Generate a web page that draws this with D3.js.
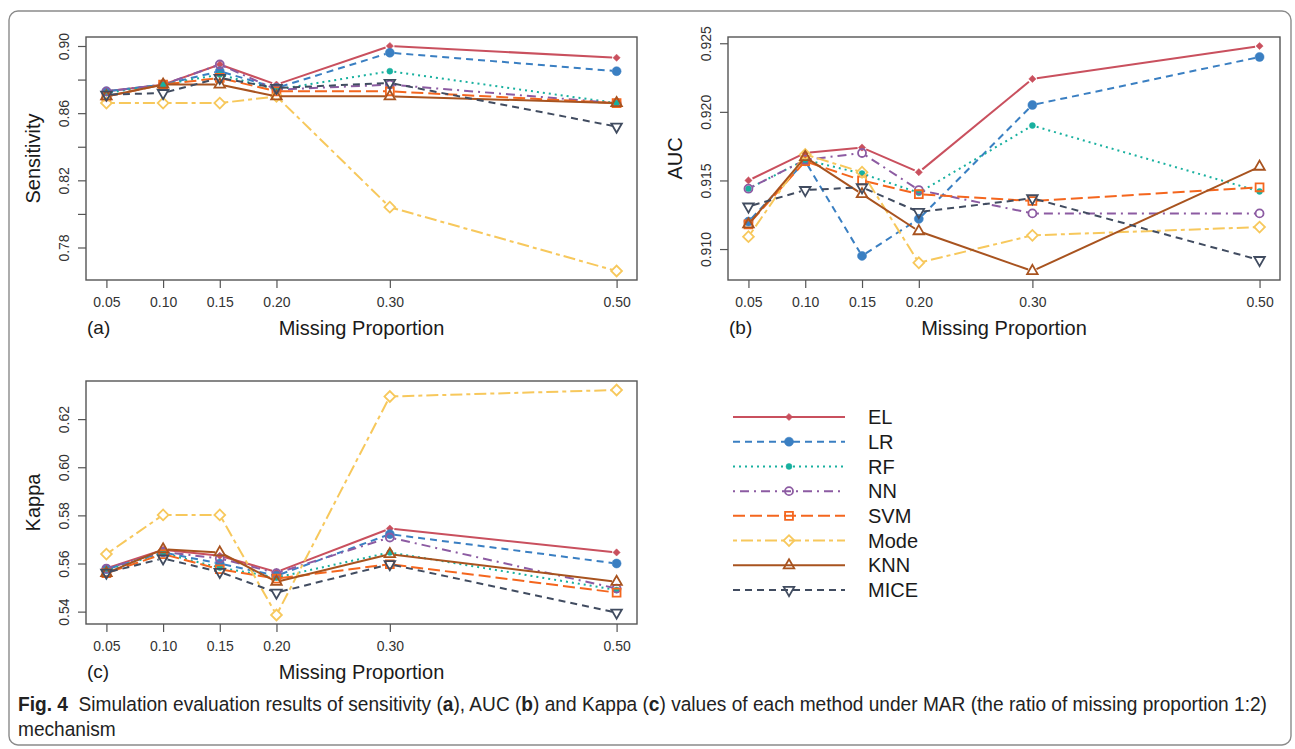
<!DOCTYPE html>
<html>
<head>
<meta charset="utf-8">
<script src="https://cdn.jsdelivr.net/npm/d3@7"></script>
<style>
  body { margin: 0; background: white; }
  svg text { font-family: "Liberation Sans", Arial, sans-serif; }
</style>
</head>
<body>
<script>
// data
const missing = [0.05, 0.10, 0.15, 0.20, 0.30, 0.50];
const missingLabels = ["0.05", "0.10", "0.15", "0.20", "0.30", "0.50"];
const methods = ["EL", "LR", "RF", "NN", "SVM", "Mode", "KNN", "MICE"];
const colors = ["#C9505E", "#3A7FC2", "#18B09F", "#8C5BA2", "#F4661E", "#F7C85C", "#A8531F", "#414C60"];
const dashes = [null, "7,5", "2,4", "2,5,9,5", "12,5", "4,4,12,4", null, "7,5"];
const shapes = ["diamondS", "circleL", "circleS", "circleO", "square", "diamondO", "triUp", "triDown"];

// rows follow methods order
const sensitivity = [
  [0.873, 0.877, 0.889, 0.877, 0.900, 0.893],
  [0.873, 0.877, 0.885, 0.875, 0.896, 0.885],
  [0.872, 0.877, 0.883, 0.874, 0.885, 0.866],
  [0.873, 0.877, 0.889, 0.874, 0.877, 0.866],
  [0.870, 0.877, 0.881, 0.873, 0.873, 0.866],
  [0.866, 0.866, 0.866, 0.870, 0.804, 0.766],
  [0.870, 0.877, 0.877, 0.870, 0.870, 0.866],
  [0.871, 0.872, 0.881, 0.875, 0.878, 0.852]
];
const auc = [
  [0.9150, 0.9170, 0.9174, 0.9156, 0.9224, 0.9248],
  [0.9120, 0.9164, 0.9095, 0.9122, 0.9205, 0.9240],
  [0.9144, 0.9165, 0.9155, 0.9141, 0.9190, 0.9142],
  [0.9144, 0.9165, 0.9170, 0.9143, 0.9126, 0.9126],
  [0.9118, 0.9164, 0.9150, 0.9140, 0.9135, 0.9145],
  [0.9109, 0.9169, 0.9156, 0.9090, 0.9110, 0.9116],
  [0.9118, 0.9167, 0.9140, 0.9113, 0.9084, 0.9160],
  [0.9131, 0.9143, 0.9145, 0.9127, 0.9137, 0.9092]
];
const kappa = [
  [0.5580, 0.5657, 0.5632, 0.5565, 0.5745, 0.5646],
  [0.5576, 0.5646, 0.5600, 0.5549, 0.5722, 0.5600],
  [0.5573, 0.5643, 0.5583, 0.5542, 0.5646, 0.5490],
  [0.5579, 0.5648, 0.5621, 0.5560, 0.5708, 0.5496],
  [0.5560, 0.5639, 0.5576, 0.5537, 0.5597, 0.5479],
  [0.5639, 0.5802, 0.5802, 0.5386, 0.6294, 0.6321],
  [0.5560, 0.5659, 0.5646, 0.5524, 0.5639, 0.5524],
  [0.5562, 0.5621, 0.5565, 0.5479, 0.5597, 0.5396]
];
const sensTicks = [0.78, 0.80, 0.82, 0.84, 0.86, 0.88, 0.90];
const sensLabeled = [0.78, 0.82, 0.86, 0.90];
const aucTicks = [0.910, 0.915, 0.920, 0.925];
const kappaTicks = [0.54, 0.56, 0.58, 0.60, 0.62];

const W = 1295, H = 749;
const svg = d3.select("body").append("svg")
  .attr("width", W).attr("height", H);

// outer frame
svg.append("rect")
  .attr("x", 9).attr("y", 11).attr("width", 1282).attr("height", 734)
  .attr("rx", 9).attr("fill", "none").attr("stroke", "#8a8a8a").attr("stroke-width", 1.4);

function symbolPath(kind) {
  const sym = {
    diamondS: [d3.symbolSquare, 26],
    circleL: [d3.symbolCircle, 64],
    circleS: [d3.symbolCircle, 28],
    circleO: [d3.symbolCircle, 50],
    square: [d3.symbolSquare, 62],
    diamondO: [d3.symbolSquare, 58],
    triUp: [d3.symbolTriangle, 48],
    triDown: [d3.symbolTriangle, 48]
  }[kind];
  return d3.symbol().type(sym[0]).size(sym[1])();
}
function markerRotate(kind) {
  if (kind == "diamondS" || kind == "diamondO") return 45;
  if (kind == "triDown") return 180;
  return 0;
}
function isFilled(kind) {
  return kind == "diamondS" || kind == "circleL" || kind == "circleS";
}

function drawMarker(g, kind, color, x, y) {
  g.append("path")
    .attr("d", symbolPath(kind))
    .attr("transform", `translate(${x},${y}) rotate(${markerRotate(kind)})`)
    .attr("fill", isFilled(kind) ? color : "none")
    .attr("stroke", color)
    .attr("stroke-width", isFilled(kind) ? 0.5 : 1.8);
}

function panel(box, data, ticks, labeled, fmt, ylab, tag) {
  const g = svg.append("g");
  const x = d3.scaleLinear().domain([0.032, 0.518]).range([box.l, box.r]);
  const lo = d3.min(data.flat()), hi = d3.max(data.flat());
  const pad = (hi - lo) * 0.04;
  const y = d3.scaleLinear().domain([lo - pad, hi + pad]).range([box.b, box.t]);

  // y axis
  const ya = g.append("g").attr("transform", `translate(${box.l},0)`)
    .call(d3.axisLeft(y).tickValues(ticks).tickSize(8)
      .tickFormat(d => labeled.some(v => Math.abs(v - d) < 1e-9) ? fmt(d) : ""));
  ya.select(".domain").remove();
  ya.selectAll("line").attr("stroke", "#555").attr("stroke-width", 1.2);
  ya.selectAll("text")
    .attr("x", null).attr("dy", "0.35em")
    .attr("transform", "translate(-22,0) rotate(-90)")
    .attr("text-anchor", "middle")
    .attr("fill", "#333").style("font-size", "14px");

  // x axis
  const xa = g.append("g").attr("transform", `translate(0,${box.b})`)
    .call(d3.axisBottom(x).tickValues(missing).tickSize(8)
      .tickFormat((d, i) => missingLabels[i]));
  xa.select(".domain").remove();
  xa.selectAll("line").attr("stroke", "#555").attr("stroke-width", 1.2);
  xa.selectAll("text").attr("y", 22).attr("dy", "0.35em")
    .attr("fill", "#333").style("font-size", "14px");

  // series
  const gap = 4.5;
  data.forEach((vals, m) => {
    const pts = vals.map((v, i) => [x(missing[i]), y(v)]);
    const sg = g.append("g");
    for (let i = 0; i < pts.length - 1; i++) {
      const [x0, y0] = pts[i], [x1, y1] = pts[i + 1];
      const len = Math.hypot(x1 - x0, y1 - y0);
      if (len <= 2 * gap) continue;
      const ux = (x1 - x0) / len, uy = (y1 - y0) / len;
      sg.append("line")
        .attr("x1", x0 + ux * gap).attr("y1", y0 + uy * gap)
        .attr("x2", x1 - ux * gap).attr("y2", y1 - uy * gap)
        .attr("stroke", colors[m]).attr("stroke-width", 2)
        .attr("stroke-dasharray", dashes[m]);
    }
    pts.forEach(p => drawMarker(sg, shapes[m], colors[m], p[0], p[1]));
  });

  // frame
  g.append("rect")
    .attr("x", box.l).attr("y", box.t)
    .attr("width", box.r - box.l).attr("height", box.b - box.t)
    .attr("fill", "none").attr("stroke", "#555").attr("stroke-width", 1.4);

  g.append("text")
    .attr("transform", `translate(${box.l - 53},${(box.t + box.b) / 2}) rotate(-90)`)
    .attr("text-anchor", "middle").attr("dy", "0.35em")
    .style("font-size", "20px").attr("fill", "#1a1a1a")
    .text(ylab);
  g.append("text")
    .attr("x", (box.l + box.r) / 2).attr("y", box.b + 48).attr("dy", "0.35em")
    .attr("text-anchor", "middle").style("font-size", "20px").attr("fill", "#1a1a1a")
    .text("Missing Proportion");
  g.append("text")
    .attr("x", box.l + 1).attr("y", box.b + 47).attr("dy", "0.35em")
    .style("font-size", "19px").attr("fill", "#1a1a1a")
    .text(tag);
}

const fmt2 = d3.format(".2f"), fmt3 = d3.format(".3f");
panel({ l: 86, r: 637, t: 37, b: 280 }, sensitivity, sensTicks, sensLabeled, fmt2, "Sensitivity", "(a)");
panel({ l: 728, r: 1280, t: 37, b: 280 }, auc, aucTicks, aucTicks, fmt3, "AUC", "(b)");
panel({ l: 86, r: 637, t: 381, b: 624 }, kappa, kappaTicks, kappaTicks, fmt2, "Kappa", "(c)");

// legend
const leg = svg.append("g");
const legY = d3.scalePoint().domain(methods).range([417, 590]);
methods.forEach((m, i) => {
  const yy = legY(m);
  leg.append("line")
    .attr("x1", 733).attr("x2", 845).attr("y1", yy).attr("y2", yy)
    .attr("stroke", colors[i]).attr("stroke-width", 2)
    .attr("stroke-dasharray", dashes[i]);
  drawMarker(leg, shapes[i], colors[i], 789, yy);
  leg.append("text")
    .attr("x", 868).attr("y", yy).attr("dy", "0.36em")
    .style("font-size", "20px").attr("fill", "#1a1a1a")
    .text(m);
});

// caption
const cap = svg.append("g").style("font-family", "'Liberation Sans Narrow', 'Liberation Sans', sans-serif");
const line1 = cap.append("text").attr("x", 0).attr("y", 0)
  .style("font-size", "19.5px").attr("fill", "#222");
const parts = [
  ["Fig. 4", true], ["  Simulation evaluation results of sensitivity (", false], ["a", true],
  ["), AUC (", false], ["b", true], [") and Kappa (", false], ["c", true],
  [") values of each method under MAR (the ratio of missing proportion 1:2)", false]
];
parts.forEach(p => line1.append("tspan")
  .style("font-weight", p[1] ? "bold" : "normal")
  .attr("xml:space", "preserve")
  .text(p[0]));
const w1 = line1.node().getComputedTextLength();
line1.attr("transform", `translate(18,711) scale(${1250 / w1},1)`);
cap.append("text")
  .attr("transform", `translate(18,736) scale(${1250 / w1},1)`)
  .style("font-size", "19.5px").attr("fill", "#222")
  .text("mechanism");
</script>
</body>
</html>
